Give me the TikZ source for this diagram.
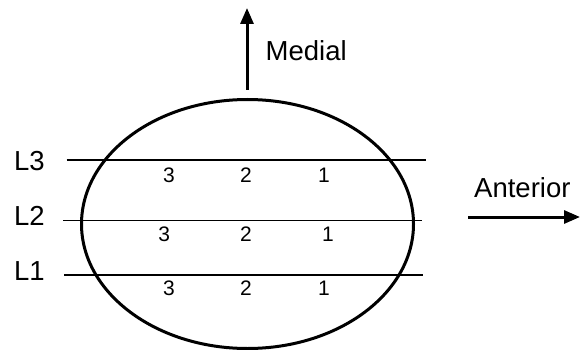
\documentclass[tikz,border=0pt]{standalone}
\usepackage{fontspec}
\setmainfont{Liberation Sans}
\usetikzlibrary{arrows.meta}
\begin{document}
\begin{tikzpicture}[x=1pt,y=-1pt,
  lbl/.style={font=\fontsize{27.5}{30}\selectfont, inner sep=0pt},
  num/.style={font=\fontsize{21}{23}\selectfont, inner sep=0pt},
  level/.style={line width=1.6pt},
  dirarrow/.style={line width=3pt, -{Triangle[length=16pt,width=13pt]}}]
\useasboundingbox (0,0) rectangle (580,350);
% ellipse
\draw[line width=3pt] (247.5,224) ellipse [x radius=166, y radius=124.5];
% level lines
\coordinate (l3a) at (66.5,160); \coordinate (l3b) at (425.5,160);
\coordinate (l2a) at (63,220.5); \coordinate (l2b) at (422,220.5);
\coordinate (l1a) at (64,275);   \coordinate (l1b) at (423,275);
\draw[level] (l3a) -- (l3b);
\draw[level] (l2a) -- (l2b);
\draw[level] (l1a) -- (l1b);
% level labels
\node[lbl, anchor=west] (L3) at (14,161) {L3};
\node[lbl, anchor=west] (L2) at (14,216) {L2};
\node[lbl, anchor=west] (L1) at (14,271) {L1};
% numbers
\node[num] (r3c3) at (169,175) {3};
\node[num] (r3c2) at (246,175) {2};
\node[num] (r3c1) at (324,175) {1};
\node[num] (r2c3) at (164.3,234.3) {3};
\node[num] (r2c2) at (246,234.3) {2};
\node[num] (r2c1) at (328,234.3) {1};
\node[num] (r1c3) at (169,288.3) {3};
\node[num] (r1c2) at (246,288.3) {2};
\node[num] (r1c1) at (324,288.3) {1};
% direction arrows
\coordinate (mtail) at (247,90); \coordinate (mtip) at (247,8);
\draw[dirarrow] (mtail) -- (mtip);
\node[lbl, anchor=base west] (medial) at (265.5,60.5) {Medial};
\coordinate (atail) at (468,217); \coordinate (atip) at (580,217);
\draw[dirarrow] (atail) -- (atip);
\node[lbl, anchor=base west] (anterior) at (474,197) {Anterior};
\end{tikzpicture}
\end{document}
